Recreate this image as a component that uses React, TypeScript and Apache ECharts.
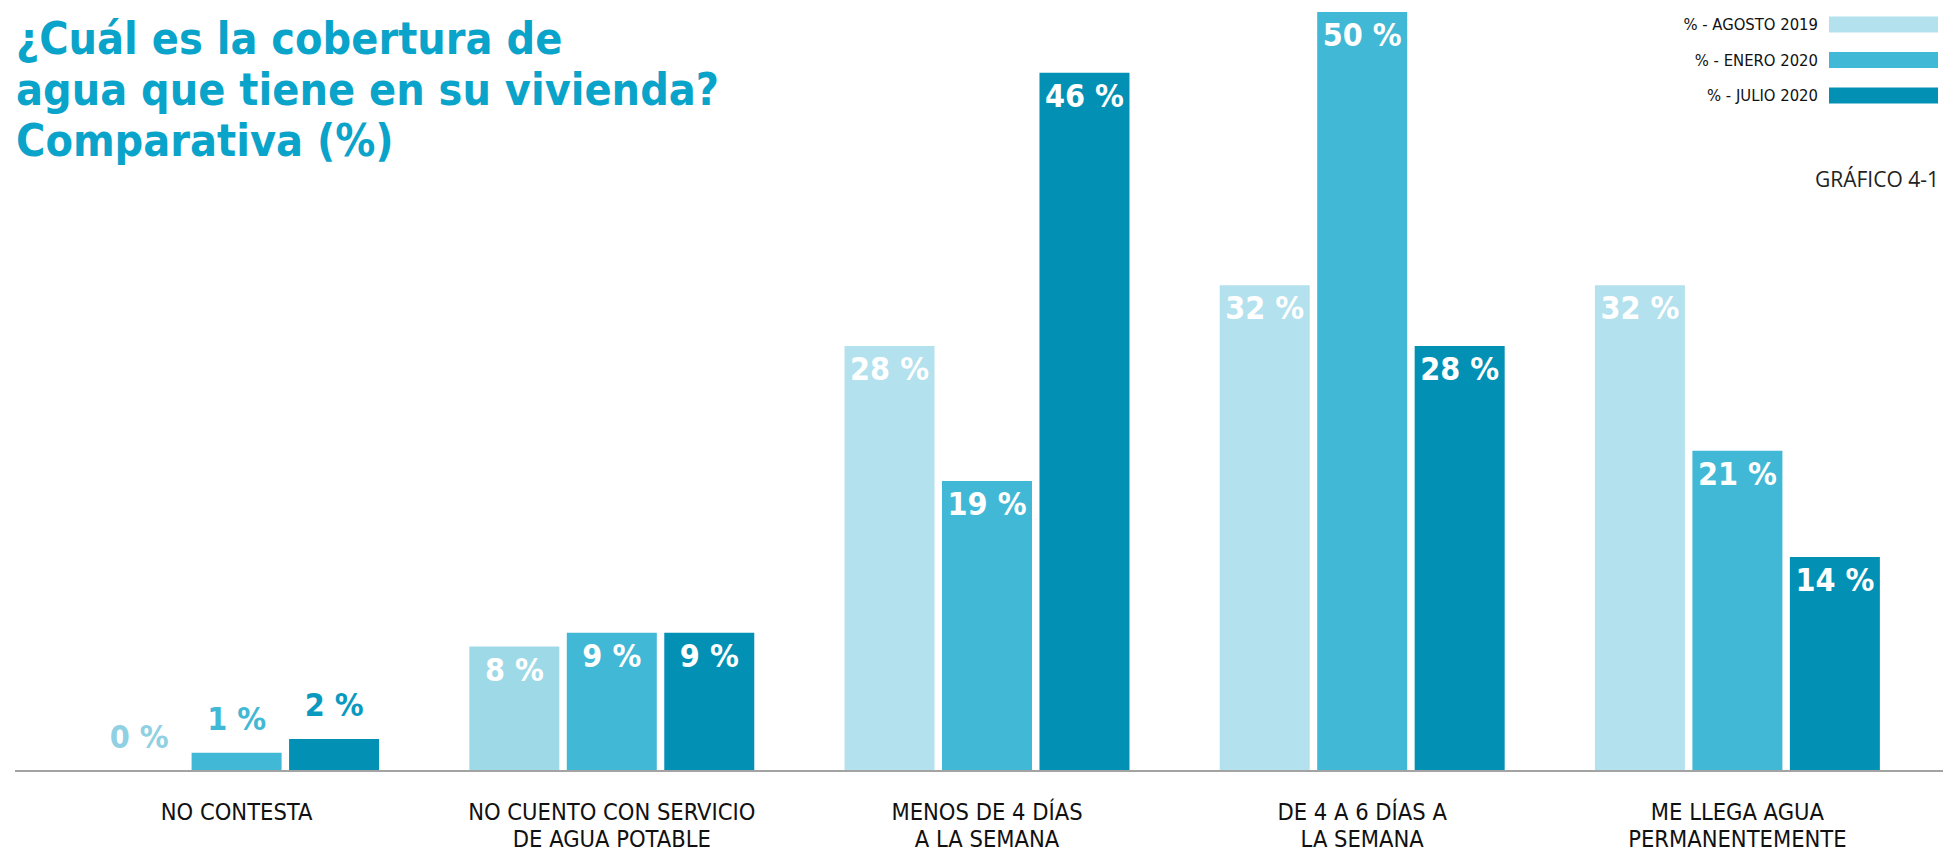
import React, { useEffect, useRef } from "react";
import * as echarts from "echarts";

const categories = [
  "NO CONTESTA",
  "NO CUENTO CON SERVICIO\nDE AGUA POTABLE",
  "MENOS DE 4 DÍAS\nA LA SEMANA",
  "DE 4 A 6 DÍAS A\nLA SEMANA",
  "ME LLEGA AGUA\nPERMANENTEMENTE",
];
const seriesNames = ["% - AGOSTO 2019", "% - ENERO 2020", "% - JULIO 2020"];
const agosto2019 = [0, 8.2, 28, 32, 32];
const enero2020 = [1.2, 9.1, 19.1, 50, 21.1];
const julio2020 = [2.1, 9.1, 46, 28, 14.1];
const barColors = ["#b3e1ed", "#41b8d5", "#0291b4"];
const outsideLabelColors = ["#8fd0e3", "#41b8d5", "#0a9ac0"];
const titleText = "¿Cuál es la cobertura de\nagua que tiene en su vivienda?\nComparativa (%)";
const chartCode = "GRÁFICO 4-1";

const FONT = "'Liberation Sans Narrow', 'DejaVu Sans Condensed', 'Noto Sans', sans-serif";

export default function App() {
  const ref = useRef<HTMLDivElement>(null);
  useEffect(() => {
    if (!ref.current) return;
    const chart = echarts.init(ref.current, null, { renderer: "svg" });
    const allSeries = [agosto2019, enero2020, julio2020];
    const series = allSeries.map((vals, si) => ({
      name: seriesNames[si],
      type: "bar",
      barWidth: 90,
      barGap: "8.3%",
      itemStyle: { color: barColors[si] },
      data: vals.map((v, ci) => {
        const small = v < 5;
        const item: any = {
          value: v,
          label: small
            ? { position: "top", distance: 18, color: outsideLabelColors[si] }
            : { position: "insideTop", distance: 7, color: "#ffffff" },
        };
        if (si === 0 && ci === 1) item.itemStyle = { color: "#9ed9e8" };
        return item;
      }),
      label: {
        show: true,
        fontFamily: FONT,
        fontWeight: "bold",
        fontSize: 32,
        formatter: (p: any) => `${Math.round(p.value)} %`,
      },
    }));
    chart.setOption({
      animation: false,
      title: {
        text: titleText,
        left: 11,
        top: 8,
        textStyle: {
          fontFamily: FONT,
          fontWeight: "bold",
          fontSize: 44.5,
          lineHeight: 51,
          color: "#0aa3c9",
        },
      },
      legend: {
        data: seriesNames,
        orient: "vertical",
        right: 0,
        top: 11,
        align: "right",
        icon: "rect",
        itemWidth: 109,
        itemHeight: 16,
        itemGap: 18.5,
        textStyle: {
          fontFamily: FONT,
          fontSize: 16.5,
          lineHeight: 16,
          color: "#111111",
          padding: [0, 6, 0, 0],
        },
      },
      grid: { left: 49, right: 18, top: 12, bottom: 83, containLabel: false },
      xAxis: {
        type: "category",
        data: categories,
        axisLine: { show: false },
        axisTick: { show: false },
        axisLabel: {
          fontFamily: FONT,
          fontSize: 23.5,
          lineHeight: 27,
          color: "#111111",
          margin: 27,
          interval: 0,
        },
      },
      yAxis: {
        type: "value",
        min: 0,
        max: 50,
        show: false,
        splitLine: { show: false },
      },
      graphic: [
        {
          type: "line",
          shape: { x1: 15, y1: 771, x2: 1943, y2: 771 },
          style: { stroke: "#a3a3a3", lineWidth: 2 },
          z: 10,
        },
        {
          type: "text",
          left: 1815,
          top: 168,
          style: {
            text: chartCode,
            fontFamily: "'Open Sans', sans-serif",
            fontSize: 21,
            fill: "#222222",
          },
        },
      ],
      series,
    });
    return () => chart.dispose();
  }, []);
  return (
    <div
      ref={ref}
      style={{ position: "absolute", left: 0, top: 0, width: 1943, height: 854 }}
    />
  );
}
